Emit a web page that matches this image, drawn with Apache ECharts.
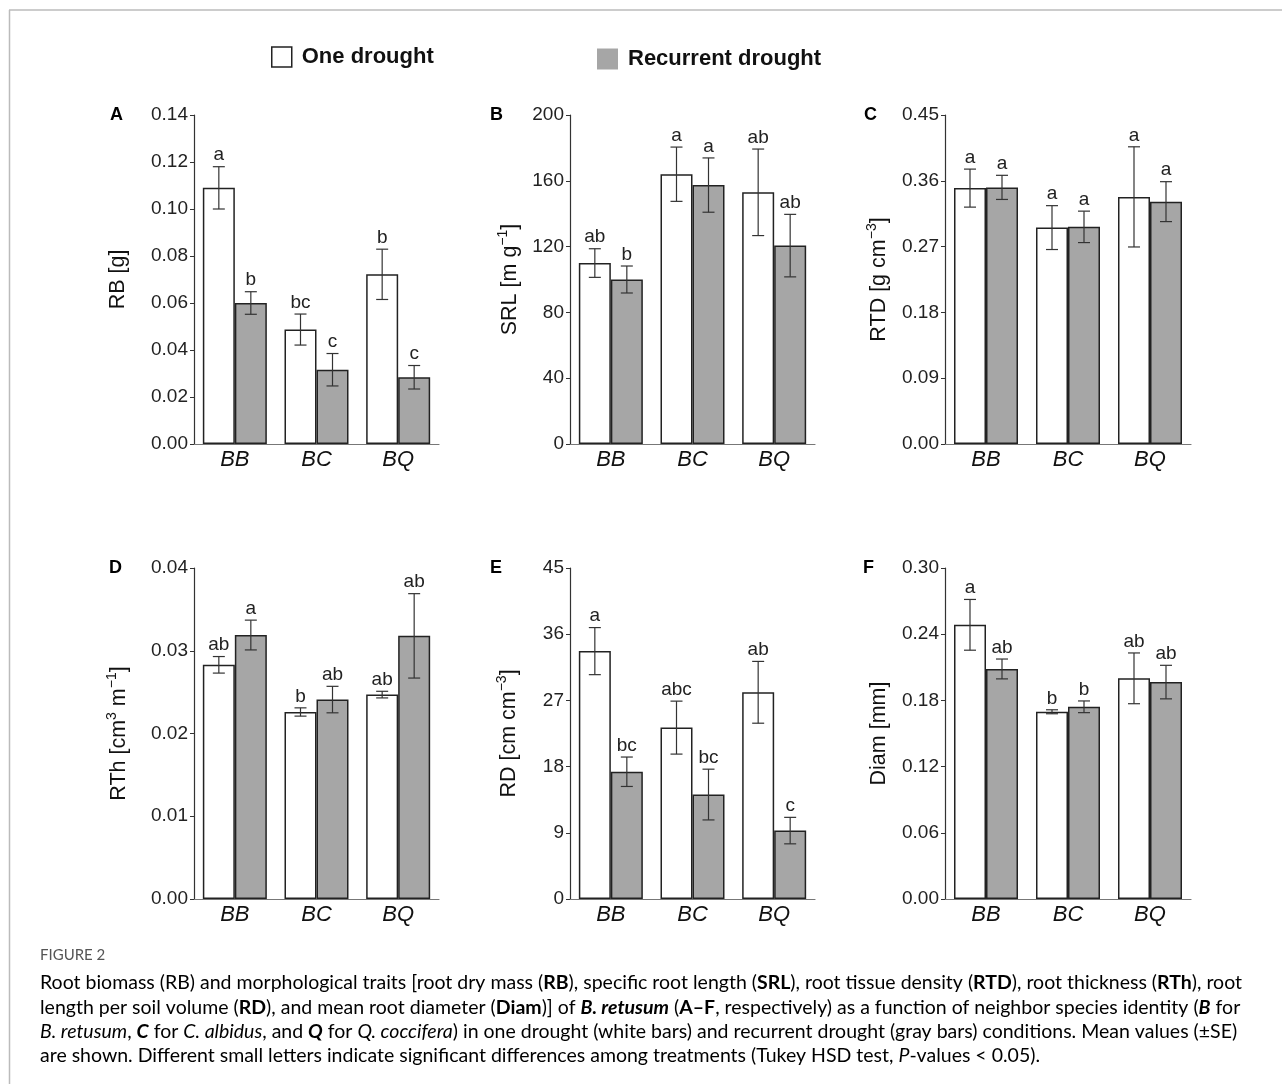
<!DOCTYPE html>
<html><head><meta charset="utf-8">
<script src="https://cdn.jsdelivr.net/npm/echarts@6/dist/echarts.min.js"></script>
<style>html,body{margin:0;padding:0;background:#fff}#c{width:1282px;height:1084px}</style>
</head><body><div id="c"></div>
<script>
// ---------- DATA ----------
const categories = ['BB', 'BC', 'BQ'];
const seriesNames = ['One drought', 'Recurrent drought'];

// Panel A: RB [g]
const rbOne = [0.109, 0.0487, 0.0722];
const rbOneSE = [0.009, 0.0066, 0.0107];
const rbRec = [0.060, 0.0316, 0.0284];
const rbRecSE = [0.0048, 0.0069, 0.005];
const rbLetOne = ['a', 'bc', 'b'];
const rbLetRec = ['b', 'c', 'c'];
const rbAxis = [0, 0.14, 0.02];

// Panel B: SRL [m g-1]
const srlOne = [110, 164, 153];
const srlOneSE = [8.7, 16.5, 26.3];
const srlRec = [100, 157.4, 120.6];
const srlRecSE = [8.2, 16.5, 19];
const srlLetOne = ['ab', 'a', 'ab'];
const srlLetRec = ['b', 'a', 'ab'];
const srlAxis = [0, 200, 40];

// Panel C: RTD [g cm-3]
const rtdOne = [0.35, 0.296, 0.338];
const rtdOneSE = [0.026, 0.030, 0.0685];
const rtdRec = [0.351, 0.297, 0.3315];
const rtdRecSE = [0.0165, 0.0215, 0.0273];
const rtdLetOne = ['a', 'a', 'a'];
const rtdLetRec = ['a', 'a', 'a'];
const rtdAxis = [0, 0.45, 0.09];

// Panel D: RTh [cm3 m-1]
const rthOne = [0.0283, 0.0226, 0.0247];
const rthOneSE = [0.001, 0.0005, 0.0004];
const rthRec = [0.0319, 0.0241, 0.0318];
const rthRecSE = [0.0018, 0.0016, 0.0051];
const rthLetOne = ['ab', 'b', 'ab'];
const rthLetRec = ['a', 'ab', 'ab'];
const rthAxis = [0, 0.04, 0.01];

// Panel E: RD [cm cm-3]
const rdOne = [33.7, 23.3, 28.1];
const rdOneSE = [3.2, 3.6, 4.2];
const rdRec = [17.3, 14.2, 9.3];
const rdRecSE = [2.0, 3.45, 1.8];
const rdLetOne = ['a', 'abc', 'ab'];
const rdLetRec = ['bc', 'bc', 'c'];
const rdAxis = [0, 45, 9];

// Panel F: Diam [mm]
const diamOne = [0.2485, 0.1697, 0.2];
const diamOneSE = [0.023, 0.0018, 0.023];
const diamRec = [0.2085, 0.1742, 0.1966];
const diamRecSE = [0.009, 0.0053, 0.0152];
const diamLetOne = ['a', 'b', 'ab'];
const diamLetRec = ['ab', 'b', 'ab'];
const diamAxis = [0, 0.30, 0.06];

// ---------- CHART ----------
const FONT = '"Liberation Sans", Arial, sans-serif';
const panels = [
  {letter: 'A', one: rbOne, oneSE: rbOneSE, rec: rbRec, recSE: rbRecSE, lo: rbLetOne, lr: rbLetRec, ax: rbAxis, dec: 2,
   name: '{n|RB [g]}', grid: {left: 194, top: 115, width: 245, height: 329}, gap: 62, lx: 110, ly: 106},
  {letter: 'B', one: srlOne, oneSE: srlOneSE, rec: srlRec, recSE: srlRecSE, lo: srlLetOne, lr: srlLetRec, ax: srlAxis, dec: 0,
   name: '{n|SRL [m g}{s|−1}{n|]}', grid: {left: 570, top: 115, width: 245, height: 329}, gap: 46, lx: 490, ly: 106},
  {letter: 'C', one: rtdOne, oneSE: rtdOneSE, rec: rtdRec, recSE: rtdRecSE, lo: rtdLetOne, lr: rtdLetRec, ax: rtdAxis, dec: 2,
   name: '{n|RTD [g cm}{s|−3}{n|]}', grid: {left: 945, top: 115, width: 246, height: 329}, gap: 52, lx: 864, ly: 106},
  {letter: 'D', one: rthOne, oneSE: rthOneSE, rec: rthRec, recSE: rthRecSE, lo: rthLetOne, lr: rthLetRec, ax: rthAxis, dec: 2,
   name: '{n|RTh [cm}{s|3}{n| m}{s|−1}{n|]}', grid: {left: 194, top: 568, width: 245, height: 331}, gap: 61, lx: 109, ly: 559},
  {letter: 'E', one: rdOne, oneSE: rdOneSE, rec: rdRec, recSE: rdRecSE, lo: rdLetOne, lr: rdLetRec, ax: rdAxis, dec: 0,
   name: '{n|RD [cm cm}{s|−3}{n|]}', grid: {left: 570, top: 568, width: 245, height: 331}, gap: 47, lx: 490, ly: 559},
  {letter: 'F', one: diamOne, oneSE: diamOneSE, rec: diamRec, recSE: diamRecSE, lo: diamLetOne, lr: diamLetRec, ax: diamAxis, dec: 2,
   name: '{n|Diam [mm]}', grid: {left: 945, top: 568, width: 246, height: 331}, gap: 52, lx: 863, ly: 559}
];

const BAR_W = 32;
function errSeries(gi, means, ses, letters, side) {
  return {
    type: 'custom', xAxisIndex: gi, yAxisIndex: gi, z: 10, silent: true, clip: false,
    data: means.map((m, i) => [i, m, ses[i]]),
    renderItem(params, api) {
      const i = api.value(0), m = api.value(1), se = api.value(2);
      const c = api.coord([i, m]);
      const x = c[0] + side * BAR_W / 2;
      const yT = api.coord([i, m + se])[1];
      const yB = api.coord([i, m - se])[1];
      const st = {stroke: '#333', lineWidth: 1.2};
      return {type: 'group', children: [
        {type: 'line', shape: {x1: x, y1: yT, x2: x, y2: yB}, style: st},
        {type: 'line', shape: {x1: x - 6, y1: yT, x2: x + 6, y2: yT}, style: st},
        {type: 'line', shape: {x1: x - 6, y1: yB, x2: x + 6, y2: yB}, style: st},
        {type: 'text', x: x, y: yT - 2, style: {text: letters[params.dataIndex], textAlign: 'center', textVerticalAlign: 'bottom',
          font: '19px ' + FONT, fill: '#222'}}
      ]};
    }
  };
}

const grids = [], xAxes = [], yAxes = [], series = [], graphics = [];
panels.forEach((p, gi) => {
  grids.push(p.grid);
  xAxes.push({type: 'category', gridIndex: gi, data: categories,
    axisLine: {lineStyle: {color: '#777', width: 1.2}}, axisTick: {show: false},
    axisLabel: {fontFamily: FONT, fontStyle: 'italic', fontSize: 22, color: '#111', margin: 5}});
  yAxes.push({type: 'value', gridIndex: gi, min: p.ax[0], max: p.ax[1], interval: p.ax[2],
    name: p.name, nameLocation: 'middle', nameRotate: 90, nameGap: p.gap,
    nameTextStyle: {rich: {n: {fontFamily: FONT, fontSize: 21.5, color: '#111', lineHeight: 28},
      s: {fontFamily: FONT, fontSize: 14, color: '#111', verticalAlign: 'top', lineHeight: 14}}},
    axisLine: {show: true, lineStyle: {color: '#333', width: 1.2}},
    axisTick: {show: true, length: 4, lineStyle: {color: '#333'}},
    splitLine: {show: false},
    axisLabel: {fontFamily: FONT, fontSize: 19, color: '#222', margin: 6,
      formatter: v => v.toFixed(p.dec)}});
  series.push({type: 'bar', name: seriesNames[0], xAxisIndex: gi, yAxisIndex: gi, data: p.one,
    barWidth: BAR_W, barGap: '0%', itemStyle: {color: '#ffffff', borderColor: '#222', borderWidth: 1.5}});
  series.push({type: 'bar', name: seriesNames[1], xAxisIndex: gi, yAxisIndex: gi, data: p.rec,
    barWidth: BAR_W, barGap: '0%', itemStyle: {color: '#a6a6a6', borderColor: '#222', borderWidth: 1.5}});
  series.push(errSeries(gi, p.one, p.oneSE, p.lo, -1));
  series.push(errSeries(gi, p.rec, p.recSE, p.lr, 1));
  graphics.push({type: 'text', left: p.lx, top: p.ly, style: {text: p.letter, font: 'bold 18px ' + FONT, fill: '#000'}});
});

// frame
graphics.push({type: 'line', shape: {x1: 9, y1: 10, x2: 1282, y2: 10}, style: {stroke: '#bbb', lineWidth: 1.5}});
graphics.push({type: 'line', shape: {x1: 9.5, y1: 10, x2: 9.5, y2: 1084}, style: {stroke: '#bbb', lineWidth: 1.5}});

// caption
const capFont = 'Lato, "Open Sans", sans-serif';
const CS = 19.5;
const capRich = {
  r: {fontFamily: capFont, fontSize: CS, color: '#555'},
  b: {fontFamily: capFont, fontSize: CS, color: '#555', fontWeight: 'bold'},
  i: {fontFamily: capFont, fontSize: CS, color: '#555', fontStyle: 'italic'},
  bi: {fontFamily: capFont, fontSize: CS, color: '#555', fontStyle: 'italic', fontWeight: 'bold'}
};
const capLines = [
  '{r|Root biomass (RB) and morphological traits [root dry mass (}{b|RB}{r|), specific root length (}{b|SRL}{r|), root tissue density (}{b|RTD}{r|), root thickness (}{b|RTh}{r|), root}',
  '{r|length per soil volume (}{b|RD}{r|), and mean root diameter (}{b|Diam}{r|)] of }{bi|B. retusum}{r| (}{b|A–F}{r|, respectively) as a function of neighbor species identity (}{bi|B}{r| for}',
  '{i|B. retusum}{r|, }{bi|C}{r| for }{i|C. albidus}{r|, and }{bi|Q}{r| for }{i|Q. coccifera}{r|) in one drought (white bars) and recurrent drought (gray bars) conditions. Mean values (±SE)}',
  '{r|are shown. Different small letters indicate significant differences among treatments (Tukey HSD test, }{i|P}{r|-values < 0.05).}'
];
graphics.push({type: 'text', left: 40, top: 948, style: {text: 'FIGURE 2', font: '15px ' + capFont, fill: '#555'}});
capLines.forEach((t, k) => {
  graphics.push({type: 'text', left: 40, top: 973 + k * 24.4, style: {text: t, rich: capRich}});
});

const chart = echarts.init(document.getElementById('c'));
chart.setOption({
  animation: false,
  backgroundColor: '#fff',
  grid: grids, xAxis: xAxes, yAxis: yAxes, series: series,
  legend: [
    {data: [seriesNames[0]], left: 271, top: 46, padding: 0, icon: 'rect', itemWidth: 20, itemHeight: 20, selectedMode: false,
      textStyle: {fontFamily: FONT, fontSize: 22, fontWeight: 'bold', color: '#111', padding: [0, 0, 0, 5]},
      itemStyle: {borderColor: '#222', borderWidth: 1.5}},
    {data: [seriesNames[1]], left: 597, top: 48, padding: 0, icon: 'rect', itemWidth: 21, itemHeight: 21, selectedMode: false,
      textStyle: {fontFamily: FONT, fontSize: 22, fontWeight: 'bold', color: '#111', padding: [0, 0, 0, 5]},
      itemStyle: {borderWidth: 0}}
  ],
  graphic: graphics
});
</script></body></html>
